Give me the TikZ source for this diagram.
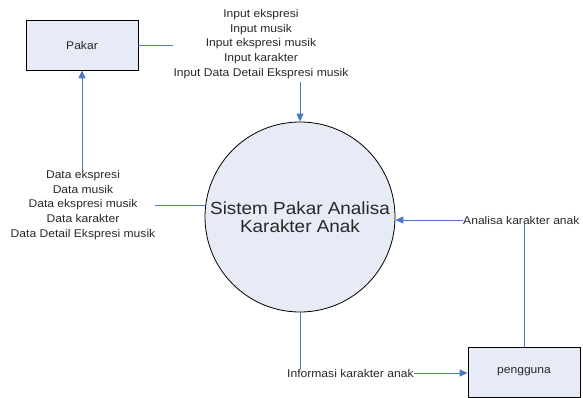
\documentclass[tikz,border=0pt]{standalone}
\usepackage{fontspec}
\setmainfont{Liberation Sans}[FakeStretch=1.08]
\usetikzlibrary{arrows.meta}
\definecolor{boxfill}{RGB}{230,235,246}
\definecolor{flow}{RGB}{72,118,200}
\definecolor{txt}{RGB}{40,40,40}
\begin{document}
\begin{tikzpicture}[x=1pt,y=-1pt,
  entity/.style={draw=black,fill=boxfill,line width=0.8pt,minimum width=112pt,minimum height=50pt,inner sep=0pt,font=\fontsize{11.2}{13}\selectfont,text=txt},
  proc/.style={draw=black,fill=boxfill,line width=0.8pt,circle,minimum size=190pt,inner sep=0pt,align=center,font=\fontsize{17.5}{18}\selectfont,text=txt},
  lbl/.style={inner sep=0pt,align=center,font=\fontsize{11.2}{14.6}\selectfont,text=txt},
  flw/.style={draw=flow,line width=0.9pt},
  arr/.style={flw,-{Triangle[length=8pt,width=7pt]}}]
\useasboundingbox (0,0) rectangle (583,398);
\node[entity] (pakar) at (82,45) {Pakar};
\node[entity] (pengguna) at (524,372) {pengguna};
\node[proc] (sys) at (300,217) {Sistem Pakar Analisa\\Karakter Anak};
\node[lbl] (inlbl) at (261,44) {Input ekspresi\\Input musik\\Input ekspresi musik\\Input karakter\\Input Data Detail Ekspresi musik};
\node[lbl] (datalbl) at (83,205) {Data ekspresi\\Data musik\\Data ekspresi musik\\Data karakter\\Data Detail Ekspresi musik};
\node[lbl,anchor=west] (anlbl) at (463,220) {Analisa karakter anak};
\node[lbl,anchor=west] (infolbl) at (287,373) {Informasi karakter anak};
\coordinate (intop) at (300,82);
\draw[flw] (pakar.east) -- (inlbl.west |- pakar.east);
\draw[arr] (intop) -- (sys.north);
\draw[flw] (sys.west |- datalbl.east) -- (datalbl.east);
\draw[arr] (datalbl.north -| pakar.south) -- (pakar.south);
\draw[arr] (anlbl.west) -- (sys.east |- anlbl.west);
\draw[flw] (pengguna.north) -- (pengguna.north |- anlbl.south);
\draw[flw] (sys.south) -- (sys.south |- infolbl.north);
\draw[arr] (infolbl.east) -- (pengguna.west |- infolbl.east);
\end{tikzpicture}
\end{document}
